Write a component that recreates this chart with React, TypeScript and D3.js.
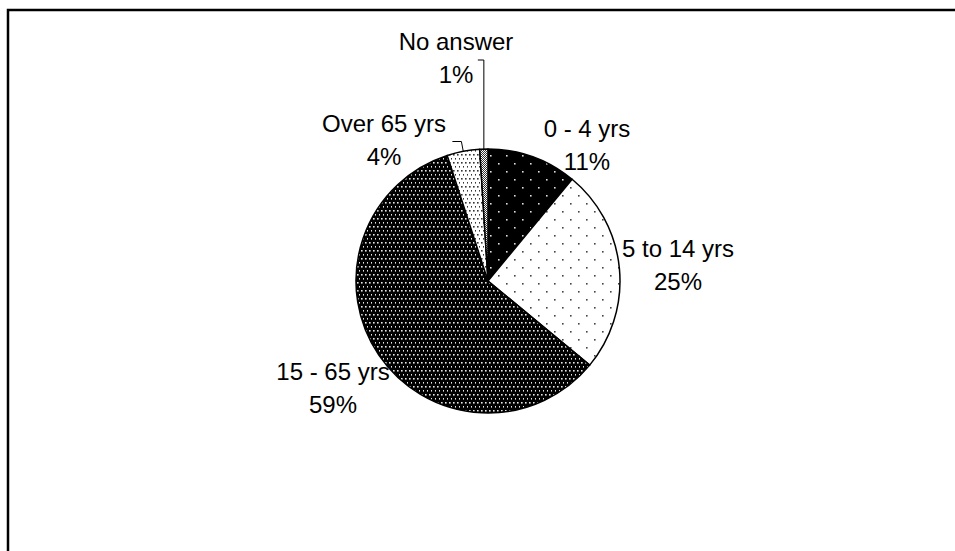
import * as d3 from 'd3';

const CATEGORIES = ['0 - 4 yrs', '5 to 14 yrs', '15 - 65 yrs', 'Over 65 yrs', 'No answer'];
const VALUES = [11, 25, 59, 4, 1];
const PERCENT_LABELS = ['11%', '25%', '59%', '4%', '1%'];
const PATTERNS = ['p-sparse-dark', 'p-sparse-light', 'p-dense-dark', 'p-dense-light', 'p-cross'];

// first-line baseline of each label, relative to the pie centre
const LABEL_OFFSET: [number, number][] = [
  [99, -144],
  [190, -24],
  [-155, 99],
  [-104, -149],
  [-32, -231],
];
// leader lines only for the tiny slices
const LEADER = [null, null, null, 'radial', 'vertical'] as const;

const W = 955;
const H = 551;
const CX = 488;
const CY = 281;
const R = 132;
const FONT = '"Liberation Sans", Arial, sans-serif';
const FONT_SIZE = 24;
const LINE_GAP = 33;

function polar(rad: number, r: number): [number, number] {
  return [CX + r * Math.sin(rad), CY - r * Math.cos(rad)];
}

export default function App() {
  const pie = d3.pie<number>().sort(null).value(d => d);
  const arcs = pie(VALUES);
  const arc = d3.arc<d3.PieArcDatum<number>>().innerRadius(0).outerRadius(R);

  return (
    <div style={{ position: 'fixed', left: 0, top: 0, width: W, height: H, background: '#fff' }}>
      <svg width={W} height={H} style={{ display: 'block' }}>
        <defs>
          <pattern id="p-sparse-dark" width={16} height={16} patternUnits="userSpaceOnUse">
            <rect width={16} height={16} fill="#000" />
            <rect x={2} y={2} width={1.6} height={1.6} fill="#ddd" />
            <rect x={10} y={10} width={1.6} height={1.6} fill="#ddd" />
          </pattern>
          <pattern id="p-sparse-light" width={16} height={16} patternUnits="userSpaceOnUse">
            <rect width={16} height={16} fill="#fff" />
            <rect x={2} y={2} width={1.6} height={1.6} fill="#444" />
            <rect x={10} y={10} width={1.6} height={1.6} fill="#444" />
          </pattern>
          <pattern id="p-dense-dark" width={4} height={8} patternUnits="userSpaceOnUse">
            <rect width={4} height={8} fill="#000" />
            <rect x={1} y={1} width={1.6} height={1.6} fill="#e6e6e6" />
            <rect x={3} y={5} width={1.6} height={1.6} fill="#e6e6e6" />
          </pattern>
          <pattern id="p-dense-light" width={4} height={8} patternUnits="userSpaceOnUse">
            <rect width={4} height={8} fill="#fff" />
            <rect x={1} y={1} width={1.6} height={1.6} fill="#333" />
            <rect x={3} y={5} width={1.6} height={1.6} fill="#333" />
          </pattern>
          <pattern id="p-cross" width={2} height={2} patternUnits="userSpaceOnUse">
            <rect width={2} height={2} fill="#fff" />
            <rect x={0} y={0} width={1} height={1} fill="#333" />
            <rect x={1} y={1} width={1} height={1} fill="#333" />
          </pattern>
        </defs>

        {/* chart frame, clipped by the window on the right and bottom */}
        <rect x={8} y={10} width={W + 20} height={H + 20} fill="none" stroke="#000" strokeWidth={2.5} />

        <g transform={`translate(${CX},${CY})`}>
          {arcs.map((a, i) => (
            <path
              key={CATEGORIES[i]}
              d={arc(a) || ''}
              fill={`url(#${PATTERNS[i]})`}
              stroke="#000"
              strokeWidth={1.5}
              strokeLinejoin="round"
            />
          ))}
        </g>

        {arcs.map((a, i) => {
          const kind = LEADER[i];
          if (!kind) return null;
          const mid = (a.startAngle + a.endAngle) / 2;
          const start = polar(mid, R);
          const labelMidY = CY + LABEL_OFFSET[i][1] + 10;
          const elbow: [number, number] = kind === 'radial' ? polar(mid, R + 10) : [start[0], labelMidY];
          const end: [number, number] = [elbow[0] - (kind === 'radial' ? 9 : 6), elbow[1]];
          return (
            <polyline
              key={`leader-${i}`}
              points={[start, elbow, end].map(p => p.join(',')).join(' ')}
              fill="none"
              stroke="#000"
              strokeWidth={1}
            />
          );
        })}

        {CATEGORIES.map((c, i) => {
          const lx = CX + LABEL_OFFSET[i][0];
          const ly = CY + LABEL_OFFSET[i][1];
          return (
            <text
              key={`label-${c}`}
              fontFamily={FONT}
              fontSize={FONT_SIZE}
              textAnchor="middle"
              fill="#000"
            >
              <tspan x={lx} y={ly}>{c}</tspan>
              <tspan x={lx} y={ly + LINE_GAP}>{PERCENT_LABELS[i]}</tspan>
            </text>
          );
        })}
      </svg>
    </div>
  );
}
